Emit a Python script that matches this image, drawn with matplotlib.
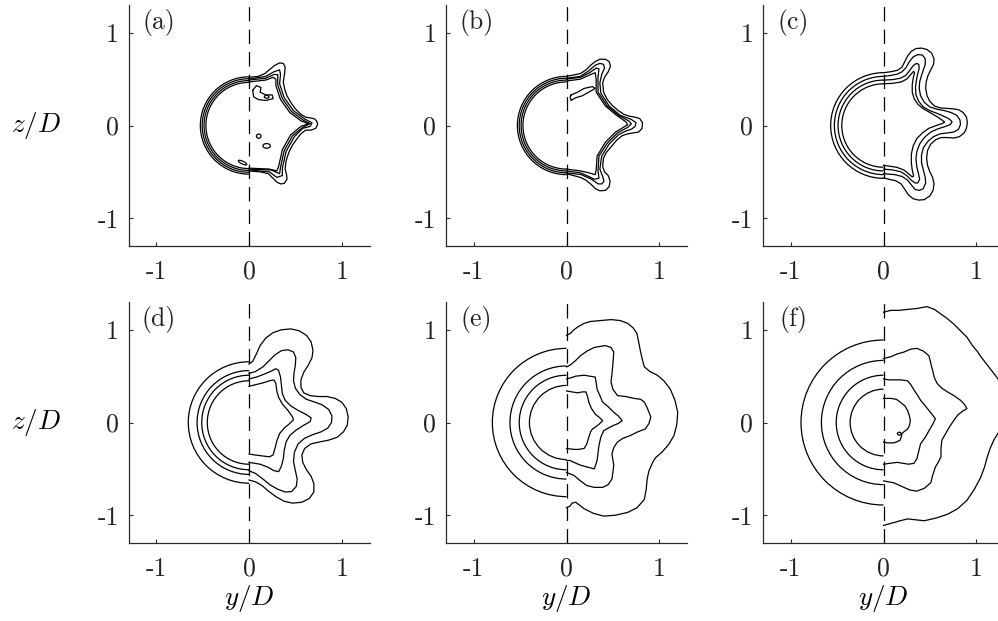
import numpy as np
import matplotlib
matplotlib.use('Agg')
import matplotlib.pyplot as plt
from matplotlib.patches import Arc, Ellipse

plt.rcParams['mathtext.fontset'] = 'cm'
plt.rcParams['axes.unicode_minus'] = False

panel_tags = ['(a)', '(b)', '(c)', '(d)', '(e)', '(f)']
tick_vals = [-1, 0, 1]
tick_text = ['-1', '0', '1']

# radii of the half circles on the y<0 side
arcs_a = [0.465, 0.485, 0.505, 0.525]
arcs_b = [0.47, 0.49, 0.51, 0.53]
arcs_c = [0.45, 0.49, 0.53, 0.57]
arcs_d = [0.45, 0.51, 0.56, 0.655]
arcs_e = [0.40, 0.51, 0.61, 0.80]
arcs_f = [0.36, 0.51, 0.67, 0.89]

# contour lines on the y>0 side, (y/D, z/D) vertices
right_a = [
    [(0, 0.47), (0.18, 0.49), (0.26, 0.52), (0.29, 0.50), (0.29, 0.43), (0.34, 0.28), (0.44, 0.14),
     (0.56, 0.05), (0.64, 0.02), (0.56, -0.01), (0.45, -0.10), (0.36, -0.26), (0.32, -0.44),
     (0.30, -0.49), (0.22, -0.47), (0, -0.46)],
    [(0, 0.49), (0.18, 0.51), (0.27, 0.55), (0.31, 0.55), (0.31, 0.44), (0.36, 0.29), (0.46, 0.15),
     (0.58, 0.06), (0.66, 0.02), (0.58, -0.02), (0.47, -0.11), (0.38, -0.27), (0.34, -0.45),
     (0.33, -0.52), (0.24, -0.48), (0, -0.47)],
    [(0, 0.50), (0.18, 0.53), (0.27, 0.58), (0.33, 0.60), (0.34, 0.55), (0.33, 0.45), (0.38, 0.30),
     (0.48, 0.16), (0.60, 0.07), (0.68, 0.03), (0.66, -0.01), (0.58, -0.03), (0.49, -0.12),
     (0.40, -0.28), (0.36, -0.46), (0.36, -0.54), (0.30, -0.56), (0.22, -0.50), (0, -0.48)],
    [(0, 0.52), (0.10, 0.53), (0.17, 0.56), (0.23, 0.61), (0.28, 0.65), (0.33, 0.675), (0.37, 0.67),
     (0.39, 0.63), (0.385, 0.57), (0.37, 0.47), (0.385, 0.39), (0.41, 0.32), (0.45, 0.25),
     (0.50, 0.18), (0.56, 0.12), (0.61, 0.09), (0.67, 0.08), (0.71, 0.07), (0.735, 0.04),
     (0.74, 0.01), (0.72, -0.03), (0.67, -0.05), (0.61, -0.05), (0.56, -0.09), (0.52, -0.14),
     (0.47, -0.21), (0.43, -0.29), (0.40, -0.38), (0.39, -0.47), (0.405, -0.53), (0.41, -0.58),
     (0.38, -0.625), (0.34, -0.63), (0.30, -0.61), (0.27, -0.58), (0.21, -0.52), (0.12, -0.50),
     (0, -0.49)],
    [(0.04, 0.38), (0.08, 0.43), (0.13, 0.41), (0.12, 0.36), (0.18, 0.33), (0.25, 0.33),
     (0.26, 0.29), (0.18, 0.27), (0.10, 0.28), (0.05, 0.31), (0.04, 0.38)],
]
right_b = [
    [(0, 0.48), (0.15, 0.50), (0.26, 0.55), (0.31, 0.57), (0.32, 0.50), (0.32, 0.36), (0.42, 0.21),
     (0.54, 0.11), (0.64, 0.04), (0.66, 0.01), (0.63, -0.01), (0.53, -0.07), (0.42, -0.18),
     (0.33, -0.33), (0.32, -0.48), (0.31, -0.53), (0.24, -0.51), (0.15, -0.49), (0, -0.47)],
    [(0, 0.50), (0.15, 0.52), (0.25, 0.57), (0.32, 0.62), (0.35, 0.61), (0.34, 0.52), (0.34, 0.36),
     (0.44, 0.21), (0.56, 0.11), (0.67, 0.05), (0.70, 0.02), (0.66, -0.02), (0.55, -0.08),
     (0.44, -0.19), (0.35, -0.33), (0.34, -0.49), (0.35, -0.57), (0.30, -0.58), (0.24, -0.55),
     (0.15, -0.51), (0, -0.49)],
    [(0, 0.51), (0.15, 0.53), (0.24, 0.59), (0.31, 0.65), (0.36, 0.67), (0.40, 0.66), (0.41, 0.62),
     (0.38, 0.55), (0.36, 0.46), (0.37, 0.35), (0.46, 0.21), (0.58, 0.11), (0.70, 0.065),
     (0.75, 0.03), (0.74, -0.01), (0.70, -0.04), (0.64, -0.06), (0.56, -0.10), (0.46, -0.20),
     (0.38, -0.33), (0.36, -0.47), (0.39, -0.55), (0.405, -0.60), (0.38, -0.63), (0.34, -0.63),
     (0.27, -0.58), (0.16, -0.53), (0, -0.51)],
    [(0, 0.53), (0.15, 0.56), (0.21, 0.60), (0.26, 0.65), (0.31, 0.69), (0.36, 0.715), (0.42, 0.715),
     (0.46, 0.69), (0.475, 0.64), (0.45, 0.58), (0.41, 0.52), (0.39, 0.46), (0.40, 0.36),
     (0.44, 0.28), (0.49, 0.22), (0.56, 0.16), (0.62, 0.12), (0.68, 0.10), (0.74, 0.09),
     (0.79, 0.075), (0.82, 0.03), (0.815, -0.03), (0.78, -0.07), (0.72, -0.08), (0.66, -0.09),
     (0.60, -0.11), (0.54, -0.16), (0.49, -0.22), (0.43, -0.29), (0.40, -0.35), (0.39, -0.44),
     (0.41, -0.50), (0.45, -0.54), (0.47, -0.60), (0.46, -0.66), (0.42, -0.70), (0.36, -0.705),
     (0.31, -0.68), (0.26, -0.63), (0.21, -0.59), (0.15, -0.56), (0, -0.52)],
    [(0.05, 0.33), (0.12, 0.36), (0.19, 0.40), (0.28, 0.42), (0.31, 0.40), (0.24, 0.36),
     (0.17, 0.32), (0.10, 0.30), (0.05, 0.27), (0.04, 0.31), (0.05, 0.33)],
]
right_c = [
    [(0, 0.45), (0.10, 0.455), (0.19, 0.47), (0.25, 0.50), (0.29, 0.545), (0.325, 0.585),
     (0.335, 0.57), (0.32, 0.51), (0.31, 0.44), (0.31, 0.36), (0.33, 0.29), (0.37, 0.23),
     (0.43, 0.18), (0.50, 0.14), (0.57, 0.10), (0.63, 0.06), (0.66, 0.035), (0.63, 0.02),
     (0.57, 0.0), (0.49, -0.03), (0.42, -0.08), (0.36, -0.14), (0.32, -0.22), (0.30, -0.31),
     (0.30, -0.40), (0.31, -0.48), (0.325, -0.545), (0.31, -0.555), (0.27, -0.52), (0.22, -0.48),
     (0.14, -0.45), (0, -0.43)],
    [(0, 0.49), (0.10, 0.495), (0.18, 0.51), (0.24, 0.54), (0.28, 0.59), (0.32, 0.645),
     (0.355, 0.67), (0.38, 0.66), (0.385, 0.62), (0.37, 0.56), (0.355, 0.49), (0.345, 0.41),
     (0.35, 0.33), (0.38, 0.26), (0.43, 0.20), (0.50, 0.16), (0.58, 0.13), (0.65, 0.10),
     (0.71, 0.07), (0.74, 0.04), (0.72, 0.01), (0.67, -0.01), (0.59, -0.035), (0.51, -0.07),
     (0.44, -0.13), (0.39, -0.20), (0.36, -0.28), (0.35, -0.36), (0.36, -0.45), (0.38, -0.53),
     (0.39, -0.58), (0.37, -0.62), (0.34, -0.62), (0.30, -0.59), (0.25, -0.54), (0.19, -0.50),
     (0.10, -0.48), (0, -0.47)],
    [(0, 0.53), (0.08, 0.54), (0.15, 0.555), (0.20, 0.58), (0.24, 0.62), (0.28, 0.69), (0.32, 0.74),
     (0.37, 0.765), (0.42, 0.76), (0.45, 0.72), (0.45, 0.66), (0.43, 0.60), (0.41, 0.54),
     (0.39, 0.47), (0.385, 0.40), (0.40, 0.32), (0.44, 0.25), (0.50, 0.20), (0.58, 0.175),
     (0.66, 0.16), (0.73, 0.14), (0.79, 0.11), (0.825, 0.06), (0.83, 0.01), (0.81, -0.04),
     (0.76, -0.07), (0.69, -0.08), (0.61, -0.09), (0.54, -0.12), (0.48, -0.17), (0.43, -0.24),
     (0.41, -0.32), (0.41, -0.40), (0.43, -0.48), (0.45, -0.56), (0.455, -0.62), (0.43, -0.68),
     (0.39, -0.70), (0.34, -0.69), (0.30, -0.64), (0.26, -0.59), (0.20, -0.55), (0.12, -0.53),
     (0, -0.52)],
    [(0, 0.57), (0.08, 0.58), (0.15, 0.595), (0.20, 0.63), (0.23, 0.69), (0.26, 0.75), (0.30, 0.80),
     (0.35, 0.83), (0.41, 0.835), (0.47, 0.82), (0.52, 0.78), (0.545, 0.72), (0.54, 0.66),
     (0.51, 0.60), (0.48, 0.54), (0.46, 0.47), (0.455, 0.40), (0.47, 0.32), (0.50, 0.26),
     (0.55, 0.21), (0.61, 0.19), (0.68, 0.185), (0.75, 0.18), (0.81, 0.17), (0.86, 0.14),
     (0.895, 0.09), (0.905, 0.03), (0.895, -0.03), (0.87, -0.08), (0.82, -0.12), (0.76, -0.135),
     (0.69, -0.13), (0.62, -0.13), (0.56, -0.155), (0.51, -0.20), (0.475, -0.27), (0.465, -0.35),
     (0.475, -0.43), (0.50, -0.50), (0.53, -0.56), (0.545, -0.63), (0.535, -0.70), (0.50, -0.76),
     (0.44, -0.80), (0.38, -0.805), (0.32, -0.79), (0.27, -0.75), (0.23, -0.69), (0.19, -0.63),
     (0.13, -0.595), (0.06, -0.58), (0, -0.565)],
]
right_d = [
    [(0, 0.39), (0.08, 0.41), (0.16, 0.43), (0.22, 0.45), (0.27, 0.46), (0.29, 0.42), (0.30, 0.34),
     (0.32, 0.27), (0.36, 0.20), (0.42, 0.13), (0.47, 0.06), (0.48, 0.03), (0.44, -0.01),
     (0.38, -0.06), (0.33, -0.12), (0.30, -0.20), (0.28, -0.28), (0.26, -0.35), (0.22, -0.37),
     (0.14, -0.36), (0.06, -0.35), (0, -0.34)],
    [(0, 0.47), (0.08, 0.49), (0.16, 0.52), (0.23, 0.55), (0.29, 0.58), (0.32, 0.56), (0.34, 0.49),
     (0.35, 0.40), (0.36, 0.31), (0.39, 0.24), (0.45, 0.18), (0.53, 0.13), (0.61, 0.09),
     (0.67, 0.05), (0.66, 0.01), (0.59, -0.03), (0.51, -0.08), (0.44, -0.14), (0.40, -0.21),
     (0.38, -0.30), (0.37, -0.39), (0.35, -0.47), (0.32, -0.53), (0.27, -0.52), (0.20, -0.48),
     (0.12, -0.45), (0, -0.43)],
    [(0, 0.53), (0.07, 0.55), (0.15, 0.60), (0.22, 0.67), (0.28, 0.73), (0.35, 0.775), (0.42, 0.785),
     (0.48, 0.76), (0.505, 0.70), (0.50, 0.62), (0.485, 0.53), (0.48, 0.45), (0.50, 0.37),
     (0.55, 0.30), (0.62, 0.25), (0.71, 0.22), (0.79, 0.19), (0.86, 0.14), (0.895, 0.07),
     (0.89, 0.0), (0.85, -0.06), (0.78, -0.10), (0.69, -0.13), (0.60, -0.17), (0.53, -0.23),
     (0.49, -0.32), (0.48, -0.42), (0.50, -0.52), (0.52, -0.61), (0.51, -0.69), (0.46, -0.745),
     (0.39, -0.75), (0.31, -0.72), (0.23, -0.675), (0.15, -0.61), (0.07, -0.55), (0, -0.52)],
    [(0, 0.63), (0.04, 0.66), (0.08, 0.74), (0.12, 0.83), (0.18, 0.91), (0.26, 0.97), (0.35, 1.0),
     (0.45, 1.01), (0.54, 0.99), (0.62, 0.94), (0.67, 0.87), (0.69, 0.78), (0.68, 0.70),
     (0.64, 0.62), (0.59, 0.54), (0.56, 0.46), (0.56, 0.38), (0.59, 0.32), (0.66, 0.29),
     (0.75, 0.28), (0.84, 0.28), (0.93, 0.26), (1.00, 0.22), (1.05, 0.15), (1.07, 0.06),
     (1.06, -0.03), (1.02, -0.10), (0.95, -0.16), (0.86, -0.19), (0.76, -0.21), (0.67, -0.23),
     (0.60, -0.28), (0.57, -0.35), (0.58, -0.43), (0.62, -0.51), (0.67, -0.58), (0.70, -0.66),
     (0.70, -0.75), (0.65, -0.82), (0.57, -0.86), (0.47, -0.87), (0.38, -0.85), (0.29, -0.80),
     (0.21, -0.74), (0.14, -0.68), (0.07, -0.64), (0, -0.62)],
]
right_e = [
    [(0, 0.34), (0.06, 0.33), (0.12, 0.32), (0.17, 0.33), (0.21, 0.33), (0.23, 0.27), (0.24, 0.22),
     (0.27, 0.15), (0.31, 0.09), (0.36, 0.05), (0.39, 0.02), (0.35, -0.02), (0.31, -0.05),
     (0.28, -0.07), (0.26, -0.10), (0.24, -0.16), (0.22, -0.23), (0.19, -0.28), (0.13, -0.29),
     (0.08, -0.29), (0, -0.28)],
    [(0, 0.47), (0.04, 0.48), (0.10, 0.50), (0.19, 0.51), (0.25, 0.50), (0.31, 0.49), (0.32, 0.43),
     (0.33, 0.36), (0.36, 0.29), (0.39, 0.22), (0.45, 0.17), (0.51, 0.11), (0.56, 0.07),
     (0.60, 0.02), (0.56, -0.01), (0.51, -0.03), (0.45, -0.06), (0.40, -0.09), (0.37, -0.16),
     (0.35, -0.25), (0.34, -0.33), (0.33, -0.41), (0.31, -0.47), (0.30, -0.50), (0.22, -0.48),
     (0.15, -0.46), (0.08, -0.43), (0.04, -0.41), (0, -0.41)],
    [(0, 0.60), (0.04, 0.62), (0.10, 0.67), (0.15, 0.72), (0.22, 0.77), (0.30, 0.81), (0.36, 0.82),
     (0.42, 0.83), (0.48, 0.81), (0.51, 0.76), (0.505, 0.69), (0.50, 0.62), (0.49, 0.52),
     (0.48, 0.44), (0.50, 0.36), (0.55, 0.29), (0.64, 0.28), (0.73, 0.26), (0.80, 0.25),
     (0.84, 0.22), (0.87, 0.16), (0.89, 0.11), (0.91, 0.06), (0.89, -0.01), (0.85, -0.07),
     (0.77, -0.10), (0.69, -0.14), (0.61, -0.17), (0.55, -0.21), (0.51, -0.27), (0.49, -0.34),
     (0.50, -0.40), (0.51, -0.46), (0.50, -0.54), (0.49, -0.61), (0.45, -0.67), (0.39, -0.70),
     (0.30, -0.70), (0.22, -0.68), (0.15, -0.63), (0.08, -0.57), (0, -0.54)],
    [(0, 0.94), (0.04, 0.96), (0.08, 1.00), (0.12, 1.03), (0.19, 1.07), (0.26, 1.09), (0.37, 1.10),
     (0.48, 1.11), (0.58, 1.10), (0.66, 1.07), (0.72, 1.02), (0.76, 0.96), (0.78, 0.86),
     (0.80, 0.76), (0.82, 0.67), (0.84, 0.60), (0.90, 0.55), (0.98, 0.51), (1.05, 0.45),
     (1.12, 0.36), (1.17, 0.24), (1.20, 0.11), (1.19, -0.02), (1.16, -0.14), (1.10, -0.24),
     (1.03, -0.32), (0.96, -0.38), (0.93, -0.43), (0.89, -0.52), (0.87, -0.61), (0.86, -0.72),
     (0.84, -0.83), (0.76, -0.92), (0.66, -0.97), (0.53, -1.00), (0.40, -1.01), (0.29, -0.98),
     (0.19, -0.93), (0.10, -0.86), (0.06, -0.87), (0.04, -0.90), (0, -0.92)],
]
right_f = [
    [(0, 0.26), (0.08, 0.26), (0.14, 0.25), (0.18, 0.22), (0.23, 0.18), (0.26, 0.13), (0.28, 0.07),
     (0.29, 0.02), (0.28, -0.03), (0.26, -0.07), (0.22, -0.10), (0.20, -0.12), (0.19, -0.16),
     (0.18, -0.19), (0.14, -0.21), (0.11, -0.22), (0.04, -0.22), (0, -0.21)],
    [(0, 0.47), (0.06, 0.46), (0.11, 0.46), (0.19, 0.46), (0.26, 0.45), (0.30, 0.40), (0.33, 0.35),
     (0.37, 0.29), (0.40, 0.24), (0.45, 0.18), (0.49, 0.13), (0.53, 0.08), (0.56, 0.04),
     (0.53, -0.02), (0.49, -0.09), (0.45, -0.16), (0.40, -0.23), (0.38, -0.31), (0.36, -0.39),
     (0.33, -0.44), (0.27, -0.45), (0.21, -0.44), (0.15, -0.43), (0.07, -0.44), (0, -0.45)],
    [(0, 0.69), (0.08, 0.71), (0.15, 0.74), (0.22, 0.76), (0.29, 0.79), (0.36, 0.80), (0.43, 0.77),
     (0.49, 0.72), (0.51, 0.64), (0.53, 0.56), (0.55, 0.48), (0.58, 0.42), (0.63, 0.37),
     (0.69, 0.33), (0.76, 0.29), (0.83, 0.24), (0.87, 0.20), (0.90, 0.15), (0.85, 0.12),
     (0.80, 0.08), (0.75, 0.01), (0.71, -0.05), (0.67, -0.12), (0.63, -0.19), (0.62, -0.28),
     (0.62, -0.37), (0.59, -0.43), (0.56, -0.48), (0.53, -0.57), (0.51, -0.65), (0.44, -0.71),
     (0.36, -0.74), (0.29, -0.73), (0.22, -0.70), (0.11, -0.65), (0, -0.63)],
    [(0, 1.19), (0.08, 1.21), (0.17, 1.21), (0.26, 1.22), (0.36, 1.23), (0.47, 1.25), (0.55, 1.22),
     (0.62, 1.17), (0.69, 1.12), (0.76, 1.06), (0.83, 0.99), (0.90, 0.92), (0.96, 0.83),
     (1.01, 0.77), (1.05, 0.71), (1.12, 0.62), (1.19, 0.53), (1.25, 0.45), (1.32, 0.25),
     (1.33, 0.05), (1.25, -0.09), (1.19, -0.19), (1.15, -0.28), (1.12, -0.37), (1.09, -0.48),
     (1.05, -0.59), (0.98, -0.72), (0.90, -0.84), (0.80, -0.93), (0.69, -0.99), (0.57, -1.03),
     (0.44, -1.06), (0.35, -1.05), (0.26, -1.04), (0.18, -1.06), (0.11, -1.08), (0, -1.11)],
]

# small closed blobs: centre y, centre z, width, height, angle
blobs_a = [(0.105, -0.115, 0.05, 0.045, 0), (0.19, -0.22, 0.08, 0.05, 0),
           (-0.07, -0.40, 0.10, 0.03, -25), (0.19, 0.31, 0.05, 0.03, 0)]
blobs_f = [(0.17, -0.12, 0.04, 0.03, 0)]

arcs_all = [arcs_a, arcs_b, arcs_c, arcs_d, arcs_e, arcs_f]
right_all = [right_a, right_b, right_c, right_d, right_e, right_f]
blobs_all = [blobs_a, [], [], [], [], blobs_f]

fig = plt.figure(figsize=(9.98, 6.21), dpi=100)
W, H = 998.0, 621.0
lefts = [128.5, 446, 763]
tops = [5, 302]
size = 241

spine_col = '#2b2b2b'
tick_font = dict(family='cmr10', size=18.5)

for k in range(6):
    row, col = divmod(k, 3)
    ax = fig.add_axes([lefts[col] / W, 1 - (tops[row] + size) / H, size / W, size / H])
    ax.set_xlim(-1.3, 1.3)
    ax.set_ylim(-1.3, 1.3)

    for r in arcs_all[k]:
        ax.add_patch(Arc((0, 0), 2 * r, 2 * r, theta1=90, theta2=270, color='k', lw=0.9))
    for line in right_all[k]:
        pts = np.array(line)
        ax.plot(pts[:, 0], pts[:, 1], color='k', lw=0.9)
    for (cy, cz, w, h, ang) in blobs_all[k]:
        ax.add_patch(Ellipse((cy, cz), w, h, angle=ang, fill=False, color='k', lw=0.9))

    ax.axvline(0, color='k', lw=0.9, dashes=(11.5, 6.5))

    for s in ['top', 'right']:
        ax.spines[s].set_visible(False)
    for s in ['left', 'bottom']:
        ax.spines[s].set_color(spine_col)
        ax.spines[s].set_linewidth(0.9)

    ax.set_xticks(tick_vals)
    ax.set_yticks(tick_vals)
    ax.set_xticklabels(tick_text, **tick_font)
    ax.set_yticklabels(tick_text, **tick_font)
    ax.tick_params(direction='in', length=3, width=0.8, color=spine_col,
                   labelcolor='#222222')
    ax.tick_params(axis='y', pad=7)
    ax.tick_params(axis='x', pad=10)

    ax.text(-0.97, 1.11, panel_tags[k], ha='center', va='center',
            family='cmr10', size=18.5, color='#222222')

    if col == 0:
        ax.set_ylabel(r'$z/D$', fontsize=19.5, rotation=0, va='center', ha='center')
        ax.yaxis.set_label_coords(-0.385, 0.5)
    if row == 1:
        ax.set_xlabel(r'$y/D$', fontsize=19.5, va='center')
        ax.xaxis.set_label_coords(0.5, -0.23)

fig.savefig('out.png', dpi=100)
